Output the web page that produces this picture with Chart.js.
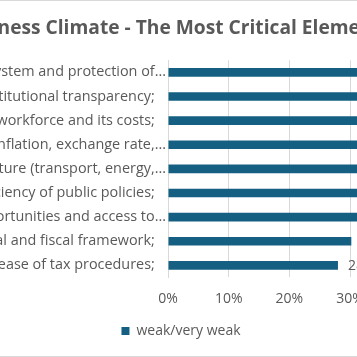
<!DOCTYPE html>
<html><head><meta charset="utf-8">
<script src="https://cdn.jsdelivr.net/npm/chart.js@4.4.0/dist/chart.umd.min.js"></script>
<style>
html,body{margin:0;padding:0;overflow:hidden;background:#fff;width:357px;height:357px;}
#wrap{position:absolute;left:-123px;top:0;width:608px;height:357px;}
</style></head><body>
<div id="wrap"><canvas id="c" width="608" height="357"></canvas></div>
<script>
const chartTitle = 'Business Climate - The Most Critical Elements\u00a0\u00a0\u00a0';
const categories = [
  'Judicial system and protection of...',
  'Institutional transparency;\u00a0\u00a0\u00a0',
  'Qualified workforce and its costs;\u00a0\u00a0\u00a0',
  'Macroeconomic stability (inflation, exchange rate,...',
  'Infrastructure (transport, energy,...',
  'Consistency and efficiency of public policies;\u00a0\u00a0\u00a0',
  'Business opportunities and access to...',
  'Legal and fiscal framework;\u00a0\u00a0\u00a0',
  'Simplicity and ease of tax procedures;\u00a0\u00a0\u00a0'
];
const seriesName = 'weak/very weak';
const weakValues = [0.44, 0.41, 0.39, 0.38, 0.36, 0.35, 0.33, 0.302, 0.28];
const axisMin = 0;
const axisMax = 0.5;
const axisStep = 0.1;

const TEXT = '#595959';
const FONT = "'Open Sans', 'Noto Sans', sans-serif";

const frameLines = {
  id: 'frameLines',
  afterDraw(chart) {
    const ctx = chart.ctx;
    ctx.save();
    ctx.strokeStyle = '#d9d9d9';
    ctx.lineWidth = 1;
    ctx.beginPath();
    ctx.moveTo(0, 0.5); ctx.lineTo(chart.width, 0.5);
    ctx.moveTo(0, chart.height - 0.5); ctx.lineTo(chart.width, chart.height - 0.5);
    ctx.stroke();
    ctx.restore();
  }
};

const valueLabels = {
  id: 'valueLabels',
  afterDatasetsDraw(chart) {
    const ctx = chart.ctx;
    const meta = chart.getDatasetMeta(0);
    ctx.save();
    ctx.font = '14px ' + FONT;
    ctx.fillStyle = TEXT;
    ctx.textAlign = 'left';
    ctx.textBaseline = 'middle';
    meta.data.forEach((el, i) => {
      const v = chart.data.datasets[0].data[i];
      ctx.fillText(Math.round(v * 100) + '%', el.x + 10, el.y + 1);
    });
    ctx.restore();
  }
};

new Chart(document.getElementById('c'), {
  type: 'bar',
  data: {
    labels: categories,
    datasets: [{
      label: seriesName,
      data: weakValues,
      backgroundColor: '#156082',
      borderWidth: 0,
      categoryPercentage: 1,
      barPercentage: 0.36
    }]
  },
  options: {
    indexAxis: 'y',
    responsive: false,
    animation: false,
    devicePixelRatio: 1,
    layout: { padding: { left: 0, right: 0, top: 0, bottom: 9 } },
    plugins: {
      title: {
        display: true,
        text: chartTitle,
        color: TEXT,
        font: { family: FONT, size: 19.2, weight: 'bold' },
        padding: { top: 16.7, bottom: 20.6 }
      },
      legend: {
        display: true,
        position: 'bottom',
        labels: {
          color: TEXT,
          font: { family: FONT, size: 14 },
          boxWidth: 8,
          boxHeight: 8,
          padding: 2.8
        }
      },
      tooltip: { enabled: false }
    },
    scales: {
      x: {
        min: axisMin,
        max: axisMax,
        ticks: {
          stepSize: axisStep,
          color: TEXT,
          font: { family: FONT, size: 14 },
          padding: 13.5,
          callback: v => (v >= axisMax ? '' : Math.round(v * 100) + '%')
        },
        grid: { color: '#d9d9d9', drawTicks: false },
        border: { display: false }
      },
      y: {
        ticks: {
          color: TEXT,
          font: { family: FONT, size: 14.4 },
          padding: 2,
          autoSkip: false
        },
        grid: { display: false, drawTicks: false },
        border: { display: true, color: '#d9d9d9' },
        afterFit(scale) { scale.width = 291; }
      }
    }
  },
  plugins: [frameLines, valueLabels]
});
</script>
</body></html>
